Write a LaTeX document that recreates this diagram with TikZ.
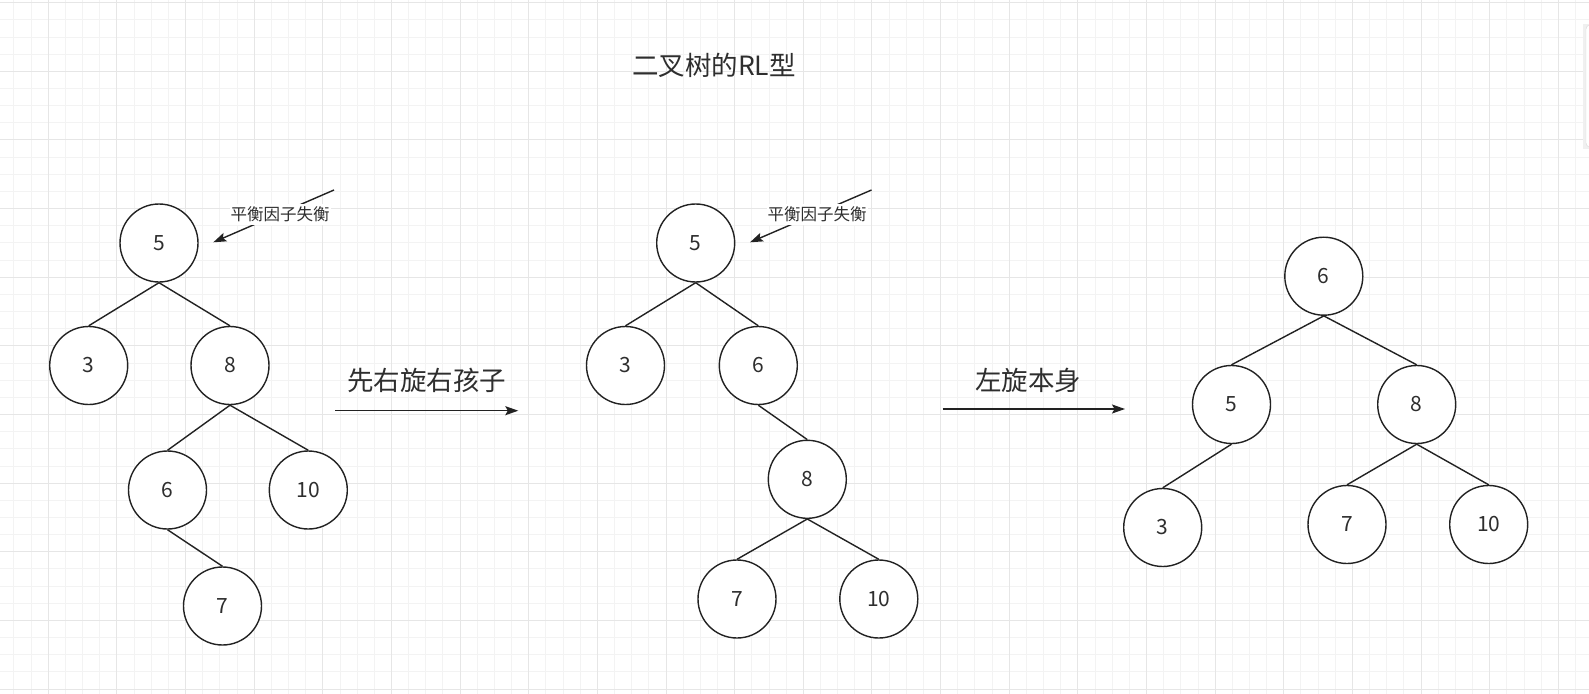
\documentclass[tikz,border=0pt]{standalone}
\usepackage{fontspec}
\setmainfont{Noto Sans CJK SC}
\usetikzlibrary{arrows.meta}
\definecolor{txt}{HTML}{2E2E2E}
\definecolor{ln}{HTML}{222222}
\definecolor{gmin}{HTML}{F3F3F3}
\definecolor{gmaj}{HTML}{E6E6E6}
\tikzset{
  tnode/.style={circle, draw=ln, line width=1.4bp, minimum size=78bp, inner sep=0pt,
    fill=white, text=txt, font=\fontsize{21bp}{25bp}\selectfont},
  tedge/.style={draw=ln, line width=1.4bp},
  bigarrow/.style={draw=ln, line width=1.4bp, -{Stealth[length=13bp,width=9bp,inset=2.5bp]}},
  steplabel/.style={text=txt, inner sep=0pt, font=\fontsize{26.5bp}{30bp}\selectfont},
  annot/.style={text=txt, fill=white, inner xsep=1bp, inner ysep=0pt, minimum height=21bp,
    font=\fontsize{16.5bp}{20bp}\selectfont},
  minorgrid/.style={draw=gmin, line width=1bp},
  majorgrid/.style={draw=gmaj, line width=1bp},
}
\begin{document}
\begin{tikzpicture}[x=1bp,y=-1bp]
\useasboundingbox (0,0) rectangle (1589,694);
\fill[white] (0,0) rectangle (1589,694);
% grid
\foreach \i in {-2,...,89} {
  \pgfmathsetmacro\xx{48.3+\i*17.16}
  \draw[minorgrid] (\xx,0) -- (\xx,694);
}
\foreach \i in {-1,...,40} {
  \pgfmathsetmacro\yy{2.7+\i*17.16}
  \draw[minorgrid] (0,\yy) -- (1589,\yy);
}
\foreach \i in {0,...,22} {
  \pgfmathsetmacro\xx{48.3+\i*68.64}
  \draw[majorgrid] (\xx,0) -- (\xx,694);
}
\foreach \i in {0,...,10} {
  \pgfmathsetmacro\yy{2.7+\i*68.64}
  \draw[majorgrid] (0,\yy) -- (1589,\yy);
}
% panel edge at the right
\fill[gray!12] (1583,24) rectangle (1589,149);
\fill[white, draw=gray!30, rounded corners=4bp] (1586,25) rectangle (1600,147);

% title
\node[steplabel] (title) at (714,65) {二叉树的RL型};

% tree 1
\node[tnode] (a5) at (159,243) {5};
\node[tnode] (a3) at (88.7,365.5) {3};
\node[tnode] (a8) at (230,365.5) {8};
\node[tnode] (a6) at (167.5,490) {6};
\node[tnode] (a10) at (308.3,490) {10};
\node[tnode] (a7) at (222.5,606) {7};
\draw[tedge] (a5.south) -- (a3.north);
\draw[tedge] (a5.south) -- (a8.north);
\draw[tedge] (a8.south) -- (a6.north);
\draw[tedge] (a8.south) -- (a10.north);
\draw[tedge] (a6.south) -- (a7.north);

% annotation 1
\coordinate (n1s) at (334,190);
\coordinate (n1e) at (213.3,242.3);
\draw[bigarrow] (n1s) -- (n1e);
\node[annot] (n1l) at (280,214.5) {平衡因子失衡};

% tree 2
\node[tnode] (b5) at (695.7,243) {5};
\node[tnode] (b3) at (625.5,365.5) {3};
\node[tnode] (b6) at (758.3,365.5) {6};
\node[tnode] (b8) at (807.3,479.3) {8};
\node[tnode] (b7) at (737,599) {7};
\node[tnode] (b10) at (878.8,599) {10};
\draw[tedge] (b5.south) -- (b3.north);
\draw[tedge] (b5.south) -- (b6.north);
\draw[tedge] (b6.south) -- (b8.north);
\draw[tedge] (b8.south) -- (b7.north);
\draw[tedge] (b8.south) -- (b10.north);

% annotation 2
\coordinate (n2s) at (871.5,190);
\coordinate (n2e) at (750,242.3);
\draw[bigarrow] (n2s) -- (n2e);
\node[annot] (n2l) at (817,214.5) {平衡因子失衡};

% tree 3
\node[tnode] (c6) at (1323.8,276.2) {6};
\node[tnode] (c5) at (1231.5,404.5) {5};
\node[tnode] (c8) at (1416.7,404.5) {8};
\node[tnode] (c3) at (1162.7,527.5) {3};
\node[tnode] (c7) at (1347,524.5) {7};
\node[tnode] (c10) at (1488.7,524.5) {10};
\draw[tedge] (c6.south) -- (c5.north);
\draw[tedge] (c6.south) -- (c8.north);
\draw[tedge] (c5.south) -- (c3.north);
\draw[tedge] (c8.south) -- (c7.north);
\draw[tedge] (c8.south) -- (c10.north);

% step arrows
\coordinate (s1a) at (335,410.7);
\coordinate (s1b) at (518.3,410.7);
\draw[bigarrow] (s1a) -- (s1b);
\node[steplabel] (s1l) at (426.5,380.5) {先右旋右孩子};

\coordinate (s2a) at (942.7,409);
\coordinate (s2b) at (1125,409);
\draw[bigarrow] (s2a) -- (s2b);
\node[steplabel] (s2l) at (1028,380.5) {左旋本身};
\end{tikzpicture}
\end{document}
